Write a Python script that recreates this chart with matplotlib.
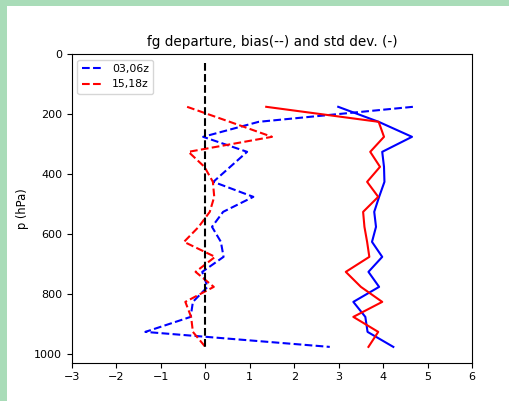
import matplotlib
matplotlib.use("Agg")
import matplotlib.pyplot as plt
from matplotlib.patches import Rectangle

levels = [175, 225, 275, 325, 375, 425, 475, 525, 575, 625, 675, 725, 775, 825, 875, 925, 975]
bias_0306 = [4.67, 1.2, -0.05, 0.94, 0.56, 0.18, 1.08, 0.4, 0.15, 0.35, 0.41, -0.07, 0.05, -0.28, -0.33, -1.35, 2.8]
bias_1518 = [-0.41, 0.55, 1.5, -0.38, -0.02, 0.17, 0.2, 0.1, -0.15, -0.48, 0.22, -0.22, 0.19, -0.45, -0.32, -0.28, 0.0]
std_0306 = [2.99, 3.9, 4.65, 3.98, 4.02, 4.03, 3.91, 3.8, 3.84, 3.75, 3.98, 3.67, 3.91, 3.33, 3.6, 3.65, 4.23]
std_1518 = [1.37, 3.9, 4.02, 3.71, 3.93, 3.64, 3.89, 3.55, 3.58, 3.64, 3.69, 3.16, 3.5, 3.98, 3.33, 3.89, 3.67]
zero_x = [0, 0]
zero_p = [30, 975]
labels = ["03,06z", "15,18z"]

plt.rcParams["font.size"] = 8

W, H = 509, 401
fig = plt.figure(figsize=(W / 100, H / 100), dpi=100)
fig.patches.append(Rectangle((0, 0), 7 / W, 1, transform=fig.transFigure,
                             facecolor="#a9dcb8", edgecolor="none", zorder=-1))
fig.patches.append(Rectangle((0, 1 - 5.5 / H), 1, 5.5 / H, transform=fig.transFigure,
                             facecolor="#a9dcb8", edgecolor="none", zorder=-1))

ax = fig.add_axes([72 / W, 38.5 / H, 400 / W, 308.2 / H])
ax.plot(bias_0306, levels, "b--", label=labels[0])
ax.plot(bias_1518, levels, "r--", label=labels[1])
ax.plot(std_0306, levels, "b-")
ax.plot(std_1518, levels, "r-")
ax.plot(zero_x, zero_p, "k--")
ax.set_xlim(-3, 6)
ax.set_ylim(1027, 0)
ax.set_xticks(range(-3, 7))
ax.set_yticks(range(0, 1001, 200))
ax.set_ylabel("p (hPa)", fontsize=8.3)
ax.set_title("fg departure, bias(--) and std dev. (-)", fontsize=9.8)
ax.legend(loc="upper left", fontsize=7.8)
fig.savefig("out.png", dpi=100)
